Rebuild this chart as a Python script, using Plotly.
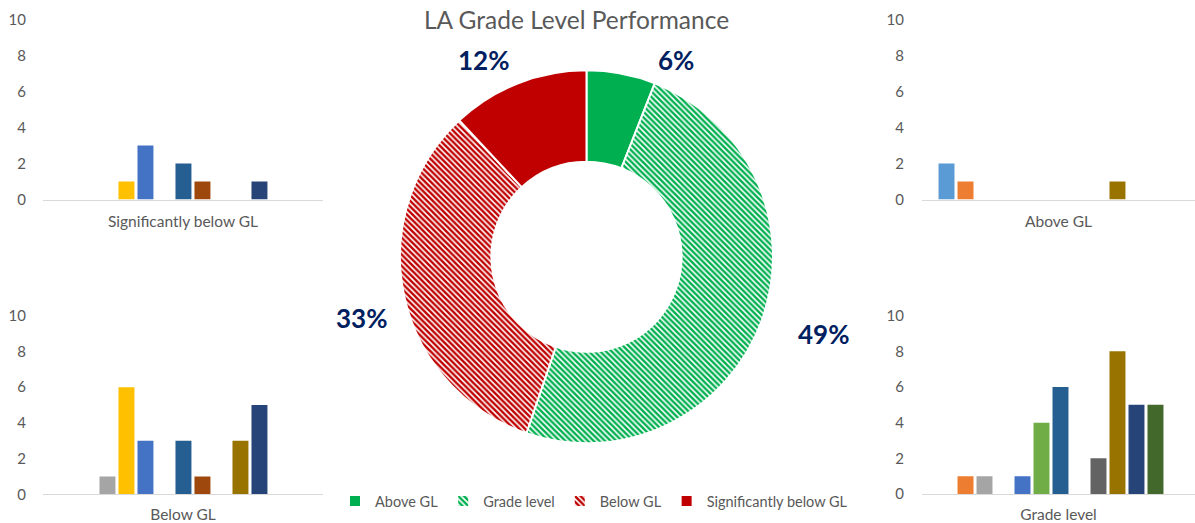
import plotly.graph_objects as go

W, H = 1195, 523
FONT = "Lato"
GREY = "#595959"

# ---- data ----
classes = ["Class %d" % i for i in range(1, 13)]
class_colors = ["#5B9BD5", "#ED7D31", "#A5A5A5", "#FFC000", "#4472C4", "#70AD47",
                "#255E91", "#9E480E", "#636363", "#997300", "#264478", "#43682B"]
sig_below_counts = [0, 0, 0, 1, 3, 0, 2, 1, 0, 0, 1, 0]
above_counts = [2, 1, 0, 0, 0, 0, 0, 0, 0, 1, 0, 0]
below_counts = [0, 0, 1, 6, 3, 0, 3, 1, 0, 3, 5, 0]
grade_counts = [0, 1, 1, 0, 1, 4, 6, 0, 2, 8, 5, 5]

levels = ["Above GL", "Grade level", "Below GL", "Significantly below GL"]
level_totals = [sum(above_counts), sum(grade_counts), sum(below_counts), sum(sig_below_counts)]
y_ticks = [0, 2, 4, 6, 8, 10]

fig = go.Figure()

panels = [
    ("x", "y", "Significantly below GL", sig_below_counts),
    ("x2", "y2", "Above GL", above_counts),
    ("x3", "y3", "Below GL", below_counts),
    ("x4", "y4", "Grade level", grade_counts),
]
for xa, ya, cat, vals in panels:
    for name, col, v in zip(classes, class_colors, vals):
        fig.add_trace(go.Bar(x=[0], y=[v], name=name, marker=dict(color=col, line=dict(width=0)),
                             xaxis=xa, yaxis=ya, showlegend=False, hoverinfo="y+name"))

# donut
fig.add_trace(go.Pie(
    labels=levels, values=level_totals, sort=False, direction="clockwise", rotation=0,
    hole=0.51, textinfo="none",
    marker=dict(colors=["#00B050", "#FFFFFF", "#FFFFFF", "#C00000"],
                line=dict(color="#FFFFFF", width=2),
                pattern=dict(shape=["", "\\", "\\", ""],
                             fgcolor=["#00B050", "#00B050", "#C00000", "#C00000"],
                             bgcolor=["#00B050", "#FFFFFF", "#FFFFFF", "#C00000"],
                             size=4, solidity=0.6, fillmode="replace")),
    domain=dict(x=[400 / W, 773 / W], y=[(H - 443.5) / H, (H - 70) / H]),
    showlegend=True,
))

def px_x(p):
    return p / W

def px_y(p):
    return (H - p) / H

def xaxis_cfg(x0, x1, title, rng, anchor):
    return dict(domain=[px_x(x0), px_x(x1)], range=rng, anchor=anchor,
                showticklabels=False, showgrid=False,
                zeroline=False, showline=True, linecolor="#D9D9D9", linewidth=1, ticks="",
                fixedrange=True, automargin=False,
                title=dict(text=title, font=dict(family=FONT, size=15.5, color=GREY), standoff=16))

def yaxis_cfg(y0, y1, standoff, anchor):
    return dict(domain=[px_y(y0), px_y(y1)], range=[0, 10], tickvals=y_ticks, anchor=anchor,
                showgrid=False, zeroline=False, showline=False, ticks="",
                ticklabelstandoff=standoff, automargin=False,
                tickfont=dict(family=FONT, size=15, color=GREY), fixedrange=True)

fig.update_layout(
    width=W, height=H, margin=dict(l=0, r=0, t=0, b=0, autoexpand=False),
    paper_bgcolor="white", plot_bgcolor="white",
    barmode="group", bargap=0.18, bargroupgap=0.16,
    font=dict(family=FONT, color=GREY),
    xaxis=xaxis_cfg(43, 323, "Significantly below GL", [-0.471, 0.536], "y"),
    yaxis=yaxis_cfg(199.5, 19.5, 16, "x"),
    xaxis2=xaxis_cfg(922, 1195, "Above GL", [-0.464, 0.518], "y2"),
    yaxis2=yaxis_cfg(199.5, 20, 17, "x2"),
    xaxis3=xaxis_cfg(43, 323, "Below GL", [-0.471, 0.536], "y3"),
    yaxis3=yaxis_cfg(494.3, 315.7, 16, "x3"),
    xaxis4=xaxis_cfg(922, 1195, "Grade level", [-0.464, 0.518], "y4"),
    yaxis4=yaxis_cfg(494, 315.7, 17, "x4"),
    legend=dict(orientation="h", x=594 / W, xanchor="center", y=px_y(501), yanchor="middle",
                font=dict(family=FONT, size=14.5, color=GREY), itemwidth=30, tracegroupgap=0),
)

# chart title
fig.add_annotation(x=px_x(576), y=px_y(20), xref="paper", yref="paper",
                   text="LA Grade Level Performance", showarrow=False,
                   xanchor="center", yanchor="middle",
                   font=dict(family=FONT, size=24.5, color=GREY))

# percentage labels for the donut
total = sum(level_totals)
label_pos = [(675.5, 60), (823, 334), (361, 318), (483, 60)]
for v, (lx, ly) in zip(level_totals, label_pos):
    fig.add_annotation(x=px_x(lx), y=px_y(ly), xref="paper", yref="paper",
                       text="<b>%d%%</b>" % round(v / total * 100), showarrow=False,
                       xanchor="center", yanchor="middle",
                       font=dict(family=FONT, size=26, color="#002060"))

fig.write_html("out.html", config={"displayModeBar": False},
               post_script="document.body.style.margin='0';document.body.style.overflow='hidden';")
